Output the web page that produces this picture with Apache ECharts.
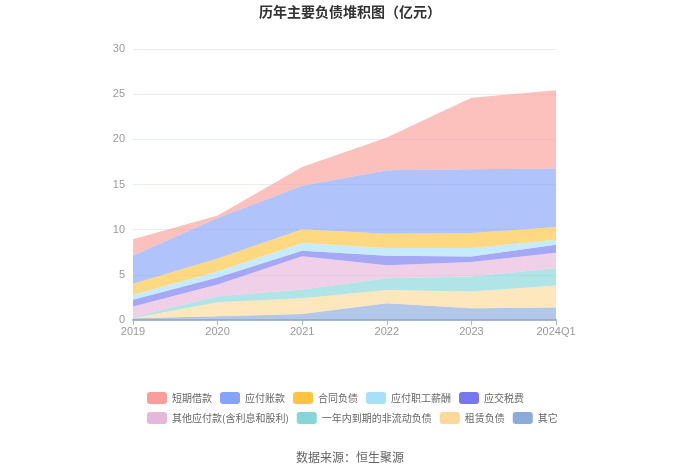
<!DOCTYPE html>
<html>
<head>
<meta charset="utf-8">
<script src="https://cdn.jsdelivr.net/npm/echarts@6/dist/echarts.min.js"></script>
<style>
  html, body { margin: 0; padding: 0; background: #fff; }
  #main { width: 700px; height: 474px; }
</style>
</head>
<body>
<div id="main"></div>
<script>
// 年份
var years = ['2019', '2020', '2021', '2022', '2023', '2024Q1'];

// 各项负债（亿元），从下往上堆叠
var qita     = [0.20, 0.41, 0.67, 1.85, 1.30, 1.37]; // 其它
var zulin    = [0.02, 1.55, 1.74, 1.48, 1.85, 2.44]; // 租赁负债
var yinian   = [0.10, 0.67, 0.96, 1.30, 1.66, 1.93]; // 一年内到期的非流动负债
var qitayf   = [1.18, 1.30, 3.70, 1.44, 1.60, 1.70]; // 其他应付款(含利息和股利)
var yingjiao = [0.74, 0.77, 0.60, 1.04, 0.63, 0.89]; // 应交税费
var zhigong  = [0.56, 0.67, 0.85, 0.85, 0.92, 0.56]; // 应付职工薪酬
var hetong   = [1.22, 1.44, 1.52, 1.60, 1.67, 1.41]; // 合同负债
var zhangkuan= [3.11, 4.49, 4.81, 7.03, 7.07, 6.48]; // 应付账款
var duanqi   = [1.82, 0.26, 2.08, 3.61, 7.90, 8.66]; // 短期借款

var legendNames = ['短期借款', '应付账款', '合同负债', '应付职工薪酬', '应交税费',
  '其他应付款(含利息和股利)', '一年内到期的非流动负债', '租赁负债', '其它'];

// 从下到上
var stackList = [
  { name: '其它', data: qita, color: '#8aabdb' },
  { name: '租赁负债', data: zulin, color: '#fdd89a' },
  { name: '一年内到期的非流动负债', data: yinian, color: '#85d6d8' },
  { name: '其他应付款(含利息和股利)', data: qitayf, color: '#e6b7db' },
  { name: '应交税费', data: yingjiao, color: '#7778ef' },
  { name: '应付职工薪酬', data: zhigong, color: '#a8e0fa' },
  { name: '合同负债', data: hetong, color: '#fec43f' },
  { name: '应付账款', data: zhangkuan, color: '#85a3f8' },
  { name: '短期借款', data: duanqi, color: '#fa9e9a' }
];

var series = stackList.map(function (s) {
  return {
    name: s.name,
    type: 'line',
    stack: 'total',
    data: s.data,
    symbol: 'none',
    itemStyle: { color: s.color },
    lineStyle: { width: 0 },
    areaStyle: { color: s.color, opacity: 0.65 }
  };
});

var chart = echarts.init(document.getElementById('main'));
chart.setOption({
  animation: false,
  title: {
    text: '历年主要负债堆积图（亿元）',
    left: 'center',
    top: 0,
    textStyle: { fontSize: 14, fontWeight: 'bold', color: '#333', fontFamily: 'Noto Sans CJK SC' }
  },
  grid: { left: 133, right: 144, top: 49, bottom: 154 },
  legend: {
    data: legendNames,
    left: 142,
    top: 387,
    width: 440,
    itemWidth: 20,
    itemHeight: 12,
    itemGap: 8,
    icon: 'roundRect',
    textStyle: { fontSize: 10, color: '#666', fontFamily: 'Noto Sans CJK SC' }
  },
  xAxis: {
    type: 'category',
    data: years,
    boundaryGap: false,
    axisLine: { lineStyle: { color: '#a9b6cf', width: 2 } },
    axisTick: { show: true, lineStyle: { color: '#a9b6cf' } },
    axisLabel: { color: '#999', fontSize: 11, margin: 6 }
  },
  yAxis: {
    type: 'value',
    min: 0,
    max: 30,
    interval: 5,
    axisLine: { show: false },
    axisTick: { show: false },
    axisLabel: { color: '#999', fontSize: 11 },
    splitLine: { lineStyle: { color: '#e8ecf4' } }
  },
  graphic: [{
    type: 'text',
    left: 'center',
    top: 451,
    style: { text: '数据来源：恒生聚源', fontSize: 12, fill: '#666', fontFamily: 'Noto Sans CJK SC' }
  }],
  series: series
});
</script>
</body>
</html>
